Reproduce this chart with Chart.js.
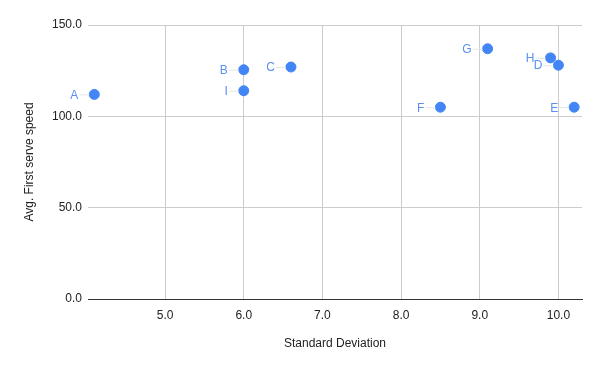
<!DOCTYPE html>
<html>
<head>
<meta charset="utf-8">
<script src="https://cdn.jsdelivr.net/npm/chart.js@4/dist/chart.umd.min.js"></script>
<style>
  html, body { margin: 0; padding: 0; background: #fff; }
  #wrap { width: 600px; height: 371px; }
</style>
</head>
<body>
<div id="wrap"><canvas id="chart"></canvas></div>
<script>
// data
const players = ['A', 'B', 'C', 'D', 'E', 'F', 'G', 'H', 'I'];
const stdDev = [4.1, 6.0, 6.6, 10.0, 10.2, 8.5, 9.1, 9.9, 6.0];
const serveSpeed = [112, 125.5, 127, 128, 105, 105, 137, 132, 114];
const xTicks = [5, 6, 7, 8, 9, 10];
const yTicks = [0, 50, 100, 150];

const blue = '#4285f4';

// point labels with a faint leader line to the left of each dot
const pointLabels = {
  id: 'pointLabels',
  afterDatasetsDraw(chart) {
    const ctx = chart.ctx;
    const meta = chart.getDatasetMeta(0);
    ctx.save();
    ctx.font = '12px "Liberation Sans", Arial, sans-serif';
    ctx.textAlign = 'right';
    ctx.textBaseline = 'middle';
    meta.data.forEach(function(pt, i) {
      const tx = pt.x - 16;
      ctx.strokeStyle = '#e6e6e6';
      ctx.lineWidth = 1;
      ctx.beginPath();
      ctx.moveTo(tx + 1, pt.y + 0.5);
      ctx.lineTo(pt.x - 5, pt.y + 0.5);
      ctx.stroke();
      ctx.fillStyle = '#5b8ff0';
      ctx.fillText(players[i], tx, pt.y + 1);
    });
    ctx.restore();
  }
};

const points = stdDev.map(function(x, i) { return { x: x, y: serveSpeed[i] }; });

new Chart(document.getElementById('chart'), {
  type: 'scatter',
  data: {
    datasets: [{
      label: 'Avg. First serve speed',
      data: points,
      backgroundColor: blue,
      borderColor: blue,
      pointRadius: 5,
      pointHoverRadius: 5
    }]
  },
  options: {
    responsive: true,
    maintainAspectRatio: false,
    animation: false,
    layout: { padding: { top: 25, right: 18, left: 0, bottom: 0 } },
    plugins: {
      legend: { display: false },
      tooltip: { enabled: false }
    },
    scales: {
      x: {
        type: 'linear',
        min: 4.02,
        max: 10.3,
        afterBuildTicks: function(scale) {
          scale.ticks = xTicks.map(function(v) { return { value: v }; });
        },
        afterFit: function(scale) { scale.height = 72; },
        grid: { color: '#cccccc', drawTicks: false },
        border: { display: true, color: '#333333', width: 1 },
        ticks: {
          padding: 9,
          color: '#222',
          font: { family: '"Liberation Sans", Arial, sans-serif', size: 12 },
          callback: function(v) { return Number(v).toFixed(1); }
        },
        title: {
          display: true,
          text: 'Standard Deviation',
          color: '#222',
          font: { family: '"Liberation Sans", Arial, sans-serif', size: 12 },
          padding: { top: 4, bottom: 20 }
        }
      },
      y: {
        min: 0,
        max: 150,
        afterBuildTicks: function(scale) {
          scale.ticks = yTicks.map(function(v) { return { value: v }; });
        },
        afterFit: function(scale) { scale.width = 88; },
        grid: {
          drawTicks: false,
          color: function(c) { return c.tick && c.tick.value === 0 ? '#333333' : '#cccccc'; }
        },
        border: { display: false },
        ticks: {
          padding: 6,
          color: '#222',
          font: { family: '"Liberation Sans", Arial, sans-serif', size: 12 },
          callback: function(v) { return Number(v).toFixed(1); }
        },
        title: {
          display: true,
          text: 'Avg. First serve speed',
          color: '#222',
          font: { family: '"Liberation Sans", Arial, sans-serif', size: 12 },
          padding: { top: 22, bottom: 4 }
        }
      }
    }
  },
  plugins: [pointLabels]
});
</script>
</body>
</html>
